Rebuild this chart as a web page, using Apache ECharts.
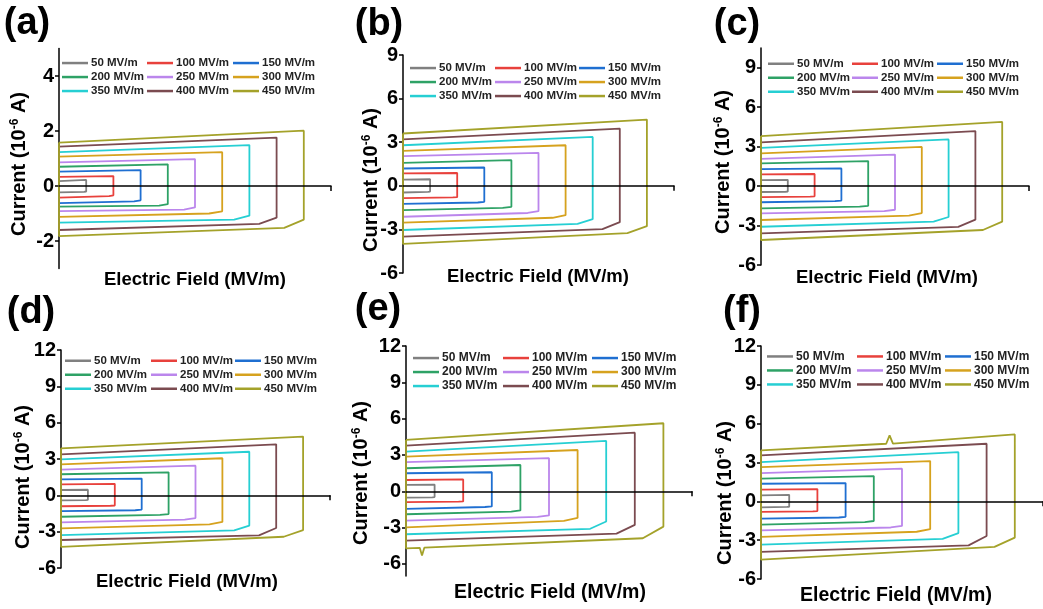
<!DOCTYPE html>
<html>
<head>
<meta charset="utf-8">
<script src="https://cdn.jsdelivr.net/npm/echarts@6/dist/echarts.min.js"></script>
<style>
  html, body { margin: 0; background: #fff; }
  #chart { width: 1043px; height: 609px; }
</style>
</head>
<body>
<div id="chart"></div>
<script>
// 電界ごとの I-E ループ (a)〜(f)
const fields = [50, 100, 150, 200, 250, 300, 350, 400, 450];
const seriesNames = fields.map(f => f + ' MV/m');
const colors = ['#808080', '#e8413c', '#1f6fd1', '#2ea266', '#bb86ec', '#d6a21e', '#26cfd3', '#7b4b50', '#a4a22a'];

// 各ループ: 上辺左端, 上辺右端, 下辺右端, 下辺の角付近, 下辺左端 (10^-6 A)
const aTopL = [0.18, 0.33, 0.52, 0.70, 0.86, 1.07, 1.23, 1.43, 1.58];
const aTopR = [0.22, 0.36, 0.58, 0.79, 0.98, 1.23, 1.49, 1.76, 2.01];
const aBotR = [-0.20, -0.34, -0.52, -0.66, -0.78, -0.92, -1.08, -1.15, -1.22];
const aBotM = [-0.21, -0.37, -0.56, -0.71, -0.86, -1.00, -1.22, -1.38, -1.52];
const aBotL = [-0.23, -0.42, -0.62, -0.75, -0.91, -1.12, -1.33, -1.60, -1.82];

const bTopL = [0.42, 0.85, 1.19, 1.58, 2.04, 2.40, 2.79, 3.20, 3.60];
const bTopR = [0.45, 0.88, 1.26, 1.76, 2.27, 2.79, 3.36, 3.94, 4.56];
const bBotR = [-0.40, -0.78, -1.10, -1.45, -1.75, -2.02, -2.30, -2.50, -2.78];
const bBotM = [-0.42, -0.80, -1.15, -1.52, -1.87, -2.20, -2.62, -2.98, -3.25];
const bBotL = [-0.46, -0.85, -1.25, -1.67, -2.13, -2.54, -3.04, -3.50, -4.00];

const cTopL = [0.46, 0.89, 1.29, 1.72, 2.07, 2.48, 2.91, 3.32, 3.80];
const cTopR = [0.48, 0.92, 1.34, 1.90, 2.40, 2.98, 3.55, 4.18, 4.88];
const cBotR = [-0.42, -0.78, -1.10, -1.50, -1.80, -2.05, -2.35, -2.55, -2.70];
const cBotM = [-0.43, -0.80, -1.15, -1.56, -1.90, -2.25, -2.70, -3.10, -3.34];
const cBotL = [-0.45, -0.84, -1.23, -1.70, -2.07, -2.58, -3.09, -3.59, -4.10];

const dTopL = [0.44, 0.91, 1.32, 1.74, 2.12, 2.56, 2.97, 3.39, 3.88];
const dTopR = [0.46, 0.95, 1.38, 1.90, 2.45, 3.06, 3.60, 4.21, 4.85];
const dBotR = [-0.38, -0.84, -1.18, -1.55, -1.88, -2.20, -2.50, -2.70, -2.87];
const dBotM = [-0.39, -0.86, -1.23, -1.62, -2.00, -2.40, -2.90, -3.30, -3.42];
const dBotL = [-0.42, -0.90, -1.30, -1.77, -2.23, -2.73, -3.28, -3.69, -4.25];

const eTopL = [0.52, 0.93, 1.49, 1.90, 2.40, 2.86, 3.27, 3.77, 4.24];
const eTopR = [0.55, 0.98, 1.57, 2.17, 2.73, 3.41, 4.16, 4.84, 5.62];
const eBotR = [-0.48, -0.84, -1.25, -1.58, -2.00, -2.20, -2.50, -2.78, -2.92];
const eBotM = [-0.50, -0.86, -1.30, -1.68, -2.12, -2.45, -3.10, -3.50, -3.88];
const eBotL = [-0.52, -0.90, -1.45, -1.90, -2.43, -2.98, -3.55, -4.08, -4.71];

const fTopL = [0.46, 0.90, 1.36, 1.75, 2.18, 2.64, 3.03, 3.55, 3.93];
const fTopR = [0.50, 0.95, 1.41, 1.95, 2.52, 3.11, 3.80, 4.45, 5.17];
const fBotR = [-0.42, -0.75, -1.20, -1.52, -1.90, -2.15, -2.45, -2.68, -2.80];
const fBotM = [-0.43, -0.78, -1.25, -1.60, -2.02, -2.35, -2.90, -3.40, -3.52];
const fBotL = [-0.46, -0.82, -1.33, -1.80, -2.24, -2.75, -3.34, -3.90, -4.50];

// 450 MV/m のスパイク
const eSpikeX = [32, 28, 24];
const eSpikeY = [-4.66, -5.30, -4.67];
const fSpikeX = [222, 228, 234];
const fSpikeY = [4.45, 5.10, 4.46];

const panelData = [
  [aTopL, aTopR, aBotR, aBotM, aBotL],
  [bTopL, bTopR, bBotR, bBotM, bBotL],
  [cTopL, cTopR, cBotR, cBotM, cBotL],
  [dTopL, dTopR, dBotR, dBotM, dBotL],
  [eTopL, eTopR, eBotR, eBotM, eBotL],
  [fTopL, fTopR, fBotR, fBotM, fBotL]
];

// 軸目盛
const yMin = [-3, -6, -6, -6, -7, -6];
const yMax = [5, 9, 10.5, 12, 12, 12];
const yLabels = [
  [-2, 0, 2, 4],
  [-6, -3, 0, 3, 6, 9],
  [-6, -3, 0, 3, 6, 9],
  [-6, -3, 0, 3, 6, 9, 12],
  [-6, -3, 0, 3, 6, 9, 12],
  [-6, -3, 0, 3, 6, 9, 12]
];
const panelTags = ['(a)', '(b)', '(c)', '(d)', '(e)', '(f)'];

// レイアウト
const grids = [
  { left: 59, top: 48.5, width: 272, height: 220 },
  { left: 403, top: 55, width: 271, height: 218 },
  { left: 761, top: 48, width: 268, height: 217 },
  { left: 61, top: 350, width: 269, height: 218 },
  { left: 406, top: 346, width: 286, height: 230 },
  { left: 761, top: 346, width: 286, height: 233 }
];
const tagPos = [[27, 23], [379, 24], [737, 24], [31, 312], [378, 309], [742, 311]];
const xNamePos = [[195, 280], [538, 277], [887, 278], [187, 582], [550, 593], [896, 596]];
const yNamePos = [[19, 164], [371, 180], [723, 162], [23, 477], [361, 473], [725, 493]];
const legendCols = [[62, 147, 233], [410, 495, 579], [768, 852, 937], [65, 151, 235], [413, 503, 592], [767, 857, 945]];
const legendRow1 = [63.3, 68.3, 64, 361, 358.3, 356.7];

const FONT = "'Liberation Sans', Arial, sans-serif";

function loopPoints(p, i) {
  const [tl, tr, br, bm, bl] = panelData[p].map(a => a[i]);
  const E = fields[i];
  const pts = [[0, tl]];
  if (p === 5 && i === 8) fSpikeX.forEach((x, k) => pts.push([x, fSpikeY[k]]));
  pts.push([E, tr], [E, br], [E * 0.92, bm]);
  if (p === 4 && i === 8) eSpikeX.forEach((x, k) => pts.push([x, eSpikeY[k]]));
  pts.push([0, bl], [0, tl]);
  return pts;
}

const chart = echarts.init(document.getElementById('chart'), null, { renderer: 'canvas' });

const grid = [], xAxis = [], yAxis = [], series = [], legend = [], graphic = [];
const axisLineStyle = { color: '#000', width: 1.5 };

grids.forEach((g, p) => {
  grid.push(g);
  xAxis.push({
    gridIndex: p, type: 'value', min: 0, max: 500, z: 5,
    axisLine: { show: true, onZero: true, lineStyle: axisLineStyle },
    axisTick: { show: true, customValues: [500], length: 5, lineStyle: axisLineStyle },
    axisLabel: { show: false },
    splitLine: { show: false }
  });
  yAxis.push({
    gridIndex: p, type: 'value', min: yMin[p], max: yMax[p],
    axisLine: { show: true, onZero: false, lineStyle: axisLineStyle },
    axisTick: { show: true, customValues: yLabels[p], length: 4, lineStyle: axisLineStyle },
    axisLabel: { customValues: yLabels[p], fontSize: 20, fontWeight: 'bold', color: '#000', fontFamily: FONT, margin: 5 },
    splitLine: { show: false }
  });
  fields.forEach((f, i) => {
    series.push({
      name: seriesNames[i], type: 'line', xAxisIndex: p, yAxisIndex: p,
      data: loopPoints(p, i), showSymbol: false, symbol: 'none',
      lineStyle: { color: colors[i], width: 1.8 }, itemStyle: { color: colors[i] },
      clip: false
    });
  });
  const fs = p >= 4 ? 12 : 11.5;
  legendCols[p].forEach((x, c) => {
    legend.push({
      orient: 'vertical', left: x, top: legendRow1[p] - 6.5, padding: 0,
      itemGap: 1.5, itemWidth: 26, itemHeight: 2.5, icon: 'rect',
      selectedMode: false,
      data: [seriesNames[c], seriesNames[c + 3], seriesNames[c + 6]],
      textStyle: { fontSize: fs, fontWeight: 'bold', color: '#222', fontFamily: FONT, lineHeight: 12.5, padding: [0, 0, 0, -2] }
    });
  });
  graphic.push({
    type: 'text', x: tagPos[p][0], y: tagPos[p][1] + 1,
    style: { text: panelTags[p], font: 'bold 38px ' + FONT, fill: '#000', align: 'center', verticalAlign: 'middle' }
  });
  graphic.push({
    type: 'text', x: xNamePos[p][0], y: xNamePos[p][1],
    style: { text: 'Electric Field (MV/m)', font: 'bold ' + (p >= 4 ? 19.5 : 18.5) + 'px ' + FONT, fill: '#000', align: 'center', verticalAlign: 'middle' }
  });
  graphic.push({
    type: 'text', x: yNamePos[p][0], y: yNamePos[p][1], rotation: Math.PI / 2,
    style: {
      text: 'Current (10{sup|-6} A)',
      font: 'bold 20px ' + FONT, fill: '#000', align: 'center', verticalAlign: 'middle',
      rich: {
        sup: { fontSize: 12, fontWeight: 'bold', fontFamily: FONT, fill: '#000', color: '#000', verticalAlign: 'top', padding: [0, 0, 8, 0] }
      }
    }
  });
});

chart.setOption({
  animation: false,
  backgroundColor: '#fff',
  grid, xAxis, yAxis, series, legend, graphic
});

window.addEventListener('resize', () => { try { chart.resize(); } catch {} });
</script>
</body>
</html>
